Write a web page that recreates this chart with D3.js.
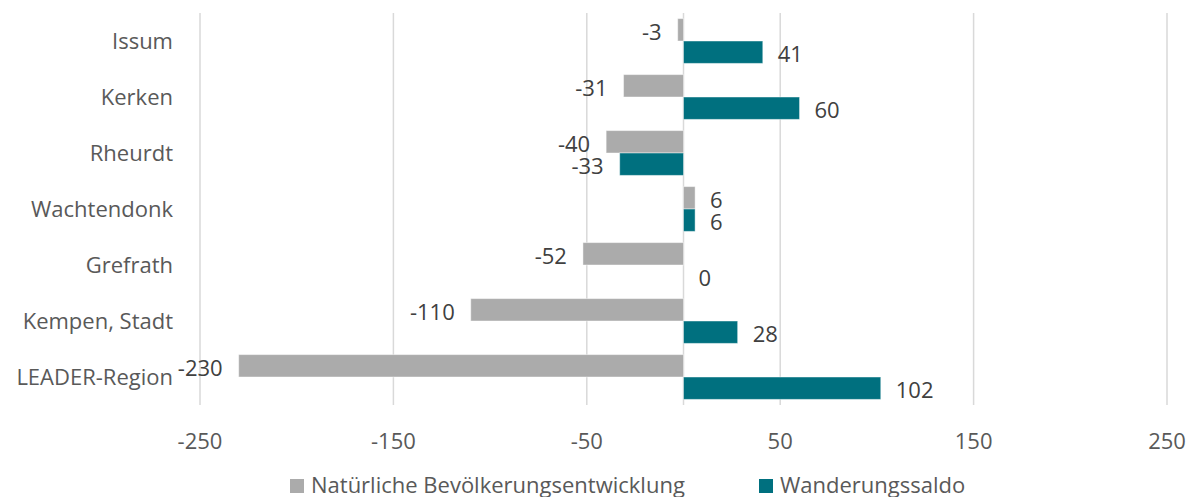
<!DOCTYPE html>
<html lang="de">
<head>
    <meta charset="UTF-8">
    <title>Bevölkerungsentwicklung LEADER-Region</title>
    <script src="https://d3js.org/d3.v7.min.js"></script>
    <style>
        body {
            margin: 0;
            background: #fff;
            font-family: "Open Sans", sans-serif;
        }
    </style>
</head>
<body>
<main></main>
<script>
    // data
    var categories = ['Issum', 'Kerken', 'Rheurdt', 'Wachtendonk', 'Grefrath', 'Kempen, Stadt', 'LEADER-Region'];
    var seriesNames = ['Natürliche Bevölkerungsentwicklung', 'Wanderungssaldo'];
    var natuerlich = [-3, -31, -40, 6, -52, -110, -230];
    var wanderung = [41, 60, -33, 6, 0, 28, 102];
    var xTicks = [-250, -150, -50, 50, 150, 250];
    var colors = ['#ABABAB', '#00707F'];

    var w = 1190, h = 497;
    var m = {top: 13, bottom: 92, left: 200, right: 23};

    var rows = categories.map(function(c, i){
        return {name: c, values: [natuerlich[i], wanderung[i]]};
    });

    var svg = d3.select('main')
                .append('svg')
                .attr('width', w)
                .attr('height', h);

    var xScale = d3.scaleLinear()
                   .domain([-250, 250])
                   .range([m.left, w - m.right]);

    var yScale = d3.scaleBand()
                   .domain(categories)
                   .range([m.top, h - m.bottom])
                   .padding(0);

    var sub = d3.scaleBand()
                .domain([0, 1])
                .range([0, yScale.bandwidth()])
                .paddingInner(0)
                .paddingOuter(0.25);

    // gridlines
    svg.append('g').selectAll('line')
       .data(xTicks)
       .enter()
       .append('line')
       .attr('x1', function(d){ return xScale(d); })
       .attr('x2', function(d){ return xScale(d); })
       .attr('y1', m.top)
       .attr('y2', h - m.bottom)
       .style('stroke', '#D9D9D9')
       .style('stroke-width', 1.5);

    // zero line
    svg.append('line')
       .attr('x1', xScale(0))
       .attr('x2', xScale(0))
       .attr('y1', m.top)
       .attr('y2', h - m.bottom)
       .style('stroke', '#D9D9D9')
       .style('stroke-width', 1.5);

    // bars
    var groups = svg.append('g').selectAll('g')
                    .data(rows)
                    .enter()
                    .append('g')
                    .attr('transform', function(d){ return 'translate(0,' + yScale(d.name) + ')'; });

    groups.selectAll('rect')
          .data(function(d){ return d.values; })
          .enter()
          .append('rect')
          .attr('x', function(d){ return xScale(Math.min(0, d)); })
          .attr('y', function(d, i){ return sub(i); })
          .attr('width', function(d){ return Math.abs(xScale(d) - xScale(0)); })
          .attr('height', sub.bandwidth())
          .style('fill', function(d, i){ return colors[i]; })
          .style('stroke', 'rgba(255,255,255,0.45)')
          .style('stroke-width', 1);

    // data labels
    groups.selectAll('text')
          .data(function(d){ return d.values; })
          .enter()
          .append('text')
          .attr('x', function(d){ return d < 0 ? xScale(d) - 16 : xScale(d) + 15; })
          .attr('y', function(d, i){ return sub(i) + sub.bandwidth() / 2 + 2; })
          .attr('dy', '0.35em')
          .attr('text-anchor', function(d){ return d < 0 ? 'end' : 'start'; })
          .style('font-size', '22px')
          .style('fill', '#404040')
          .text(function(d){ return d; });

    // category axis labels
    svg.append('g').selectAll('text')
       .data(categories)
       .enter()
       .append('text')
       .attr('x', 173)
       .attr('y', function(d){ return yScale(d) + yScale.bandwidth() / 2; })
       .attr('dy', '0.35em')
       .attr('text-anchor', 'end')
       .style('font-size', '22px')
       .style('fill', '#595959')
       .text(function(d){ return d; });

    // x tick labels
    svg.append('g').selectAll('text')
       .data(xTicks)
       .enter()
       .append('text')
       .attr('x', function(d){ return xScale(d); })
       .attr('y', 441)
       .attr('dy', '0.35em')
       .attr('text-anchor', 'middle')
       .style('font-size', '22px')
       .style('fill', '#595959')
       .text(function(d){ return d; });

    // legend
    var legendX = [290, 759];
    var legend = svg.append('g').attr('id', 'legend');
    legend.selectAll('rect')
          .data(seriesNames)
          .enter()
          .append('rect')
          .attr('x', function(d, i){ return legendX[i]; })
          .attr('y', 479)
          .attr('width', 14)
          .attr('height', 14)
          .style('fill', function(d, i){ return colors[i]; });
    legend.selectAll('text')
          .data(seriesNames)
          .enter()
          .append('text')
          .attr('x', function(d, i){ return legendX[i] + 21; })
          .attr('y', 485)
          .attr('dy', '0.35em')
          .style('font-size', '22px')
          .style('fill', '#595959')
          .text(function(d){ return d; });
</script>
</body>
</html>
